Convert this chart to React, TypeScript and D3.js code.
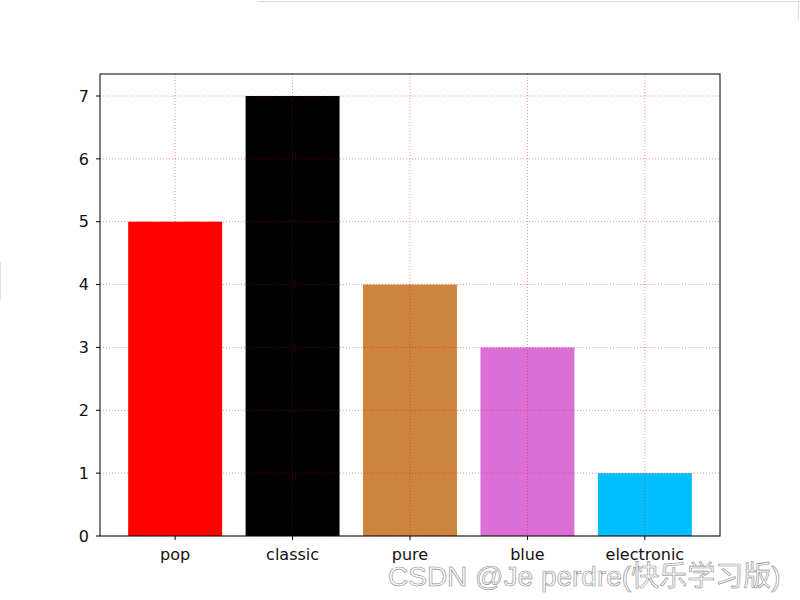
import React from "react";
import * as d3 from "d3";

const categories = ["pop", "classic", "pure", "blue", "electronic"];
const values = [5, 7, 4, 3, 1];
const colors = ["#ff0000", "#000000", "#cd853f", "#da70d6", "#00bfff"];
const yTicks = [0, 1, 2, 3, 4, 5, 6, 7];

export default function App() {
  const W = 800, H = 600;
  const left = 100, right = 720, top = 74, bottom = 536;
  const x = d3.scaleLinear().domain([-0.64, 4.64]).range([left, right]);
  const y = d3.scaleLinear().domain([0, 7.35]).range([bottom, top]);
  const bw = 0.8;
  const font = "DejaVu Sans, sans-serif";
  return (
    <svg width={W} height={H} style={{ position: "absolute", left: 0, top: 0, background: "#fff" }}>
      <rect x={0} y={0} width={W} height={H} fill="#fff" />
      <line x1={258} x2={800} y1={1.5} y2={1.5} stroke="#dcdcdc" />
      <line x1={798.5} x2={798.5} y1={0} y2={20} stroke="#dcdcdc" />
      <line x1={0.5} x2={0.5} y1={262} y2={300} stroke="#e0e0e0" />
      {categories.map((c, i) => (
        <rect key={c} x={x(i - bw / 2)} y={y(values[i])} width={x(i + bw / 2) - x(i - bw / 2)} height={y(0) - y(values[i])} fill={colors[i]} />
      ))}
      {categories.map((c, i) => (
        <line key={"gx" + c} x1={x(i)} x2={x(i)} y1={top} y2={bottom} stroke="#ff0000" strokeOpacity={0.45} strokeWidth={1} strokeDasharray="1,2" />
      ))}
      {yTicks.map((t) => (
        <line key={"gy" + t} x1={left} x2={right} y1={y(t)} y2={y(t)} stroke="#ff0000" strokeOpacity={0.45} strokeWidth={1} strokeDasharray="1,2" />
      ))}
      <rect x={left} y={top} width={right - left} height={bottom - top} fill="none" stroke="#000" strokeWidth={1} />
      {yTicks.map((t) => (
        <g key={"ty" + t}>
          <line x1={left - 4} x2={left} y1={y(t)} y2={y(t)} stroke="#000" />
          <text x={left - 11} y={y(t)} dy="0.36em" textAnchor="end" fontFamily={font} fontSize={16} fill="#111">{t}</text>
        </g>
      ))}
      {categories.map((c, i) => (
        <g key={"tx" + c}>
          <line x1={x(i)} x2={x(i)} y1={bottom} y2={bottom + 4} stroke="#000" />
          <text x={x(i)} y={bottom + 24} textAnchor="middle" fontFamily={font} fontSize={16} fill="#111">{c}</text>
        </g>
      ))}
      <text x={388} y={586} fontFamily="'Liberation Sans', 'Noto Sans CJK SC', sans-serif" fontSize={28} fill="#fafafa" stroke="#8c8c8c" strokeWidth={0.6}>CSDN @Je perdre(快乐学习版)</text>
    </svg>
  );
}
